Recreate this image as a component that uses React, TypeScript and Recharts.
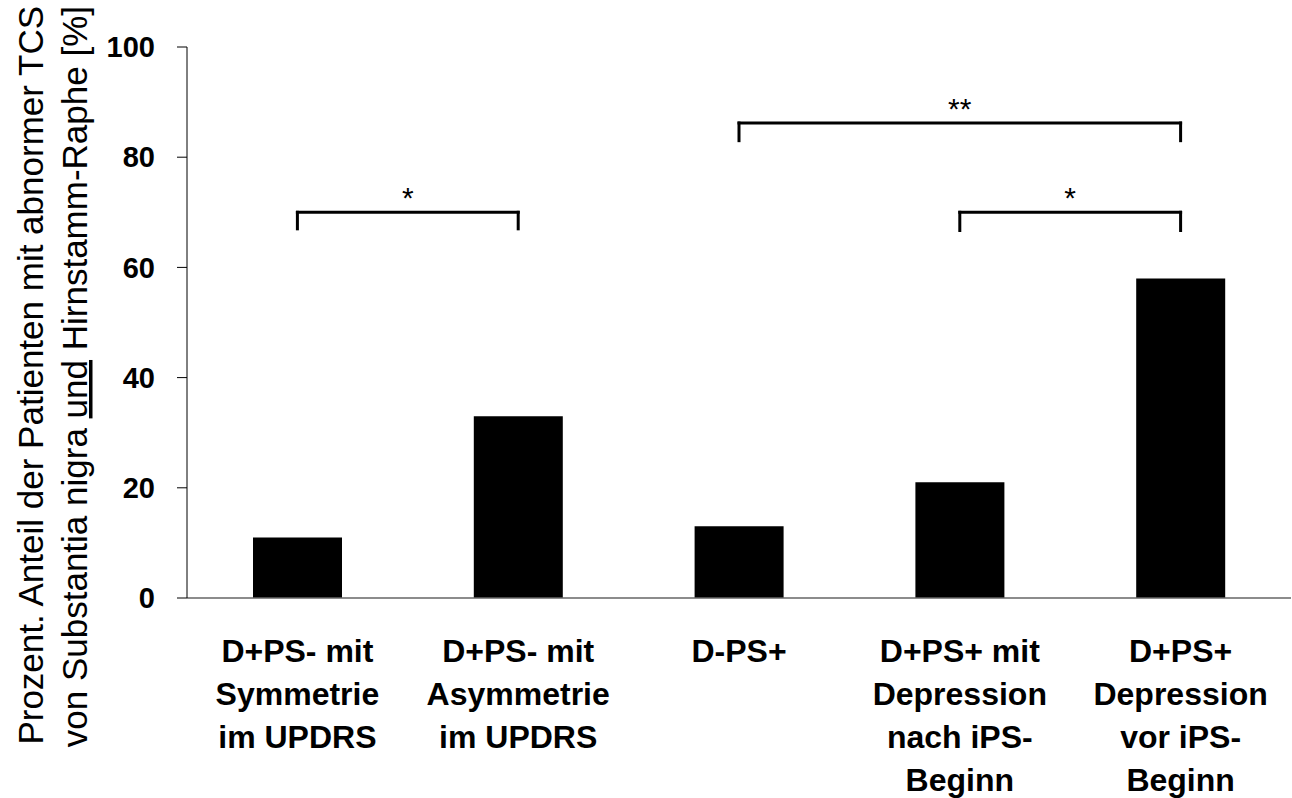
import React from 'react';
import { BarChart, Bar, XAxis, YAxis, ReferenceLine } from 'recharts';

const categories = [
  'D+PS- mit\nSymmetrie\nim UPDRS',
  'D+PS- mit\nAsymmetrie\nim UPDRS',
  'D-PS+',
  'D+PS+ mit\nDepression\nnach iPS-\nBeginn',
  'D+PS+\nDepression\nvor iPS-\nBeginn',
];
const values = [11, 33, 13, 21, 58];
const yTicks = [0, 20, 40, 60, 80, 100];
const titleLine1 = 'Prozent. Anteil der Patienten mit abnormer TCS';
const titleLine2Parts = ['von Substantia nigra ', 'und', ' Hirnstamm-Raphe [%]'];
const brackets = [
  { from: 0, to: 1, low: 67, high: 70, mark: '*' },
  { from: 2, to: 4, low: 83, high: 86.2, mark: '**' },
  { from: 3, to: 4, low: 66.7, high: 70, mark: '*' },
];

const data = categories.map((c, i) => ({ name: c, value: values[i] }));
const FONT = '"Liberation Sans", Arial, sans-serif';

const XTick = (props: any) => {
  const { x, y, payload } = props;
  const lines = String(payload.value).split('\n');
  return (
    <text textAnchor="middle" fontFamily={FONT} fontWeight="bold" fontSize={32} fill="#000">
      {lines.map((l, i) => (
        <tspan key={i} x={x} y={y + 64 + i * 43}>
          {l}
        </tspan>
      ))}
    </text>
  );
};

const YTitle = () => (
  <g>
    <text
      transform="translate(43, 6) rotate(-90)"
      textAnchor="end"
      fontFamily={FONT}
      fontSize={35}
      fill="#000"
    >
      {titleLine1}
    </text>
    <text
      transform="translate(87, 6) rotate(-90)"
      textAnchor="end"
      fontFamily={FONT}
      fontSize={35}
      fill="#000"
    >
      <tspan>{titleLine2Parts[0]}</tspan>
      <tspan style={{ textDecoration: 'underline' }}>{titleLine2Parts[1]}</tspan>
      <tspan>{titleLine2Parts[2]}</tspan>
    </text>
  </g>
);

export default function App() {
  const refs: any[] = [];
  brackets.forEach((b, i) => {
    const a = categories[b.from];
    const c = categories[b.to];
    refs.push(
      <ReferenceLine
        key={`bl${i}`}
        segment={[{ x: a, y: b.low }, { x: a, y: b.high }]}
        stroke="#000"
        strokeWidth={3}
        strokeLinecap="square"
        ifOverflow="visible"
      />
    );
    refs.push(
      <ReferenceLine
        key={`br${i}`}
        segment={[{ x: c, y: b.low }, { x: c, y: b.high }]}
        stroke="#000"
        strokeWidth={3}
        strokeLinecap="square"
        ifOverflow="visible"
      />
    );
    refs.push(
      <ReferenceLine
        key={`bh${i}`}
        segment={[{ x: a, y: b.high }, { x: c, y: b.high }]}
        stroke="#000"
        strokeWidth={3}
        strokeLinecap="square"
        ifOverflow="visible"
        label={{ value: b.mark, position: 'top', offset: 4, fontSize: 30, fill: '#000', fontFamily: FONT }}
      />
    );
  });

  return (
    <div style={{ position: 'absolute', left: 0, top: 0, width: 1292, height: 798, background: '#fff' }}>
      <BarChart width={1292} height={798} data={data} margin={{ top: 47, right: 1, left: 0, bottom: 0 }}>
        <XAxis
          dataKey="name"
          interval={0}
          height={200}
          tickSize={0}
          tickMargin={0}
          tickLine={false}
          axisLine={{ stroke: '#666', strokeWidth: 1.5 }}
          tick={<XTick />}
        />
        <XAxis
          xAxisId="top"
          dataKey="name"
          orientation="top"
          height={0}
          tick={false}
          tickLine={false}
          axisLine={{ stroke: '#a6a6a6', strokeWidth: 1.5 }}
        />
        <YAxis
          domain={[0, 100]}
          ticks={yTicks}
          width={187}
          tickSize={10}
          tickMargin={22}
          axisLine={{ stroke: '#000', strokeWidth: 1 }}
          tickLine={{ stroke: '#000', strokeWidth: 1 }}
          tick={{ fontFamily: FONT, fontWeight: 'bold', fontSize: 29, fill: '#000' }}
          label={<YTitle />}
        />
        <YAxis
          yAxisId="right"
          orientation="right"
          width={0}
          tick={false}
          tickLine={false}
          axisLine={{ stroke: '#a6a6a6', strokeWidth: 1.5 }}
        />
        <Bar dataKey="value" fill="#000" barSize={89} isAnimationActive={false} />
        {refs}
      </BarChart>
    </div>
  );
}
